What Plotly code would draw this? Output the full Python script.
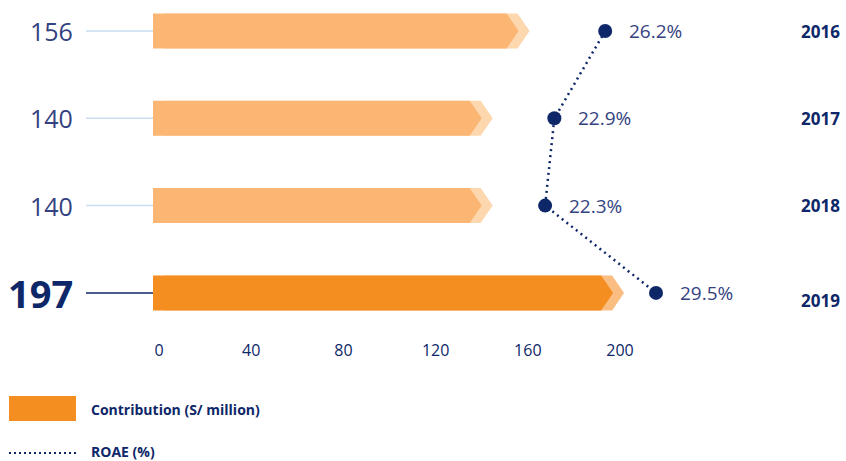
import plotly.graph_objects as go

# Data
years = ["2016", "2017", "2018", "2019"]
contribution = [156, 140, 140, 197]          # S/ million
roae = [26.2, 22.9, 22.3, 29.5]              # %
x_ticks = [0, 40, 80, 120, 160, 200]

# Styling
NAVY = "#0D2769"
SOFT_NAVY = "#34427F"
BAR_LIGHT = "#FBB673"
CHEVRON_LIGHT = "#FDD7AE"
BAR_MAIN = "#F58E21"
CHEVRON_MAIN = "#FBBE82"
GUIDE_LIGHT = "#C9DCF0"
FONT = "Open Sans"

W, H = 846, 461
PX_PER_UNIT = 2.305      # contribution axis scale
ZERO_PX = 159            # pixel of contribution 0
ROAE_PX_PER_PCT = 15.4
ROAE_ZERO_PX = 201.7
ROW_PX = 87.3
FIRST_ROW_PX = 31
PLOT_BOTTOM_PX = 335

base = -6 / PX_PER_UNIT          # bars begin slightly left of zero
tip = 12 / PX_PER_UNIT           # arrow head depth
shift = 11 / PX_PER_UNIT         # offset of the pale chevron
half = 17.5 / ROW_PX             # half bar thickness in row units


def arrow(x0, x1, yc):
    xs = [x0, x1 - tip, x1, x1 - tip, x0, x0]
    ys = [yc - half, yc - half, yc, yc + half, yc + half, yc - half]
    return xs, ys


fig = go.Figure()
last = len(years) - 1
for i, v in enumerate(contribution):
    main_col = BAR_MAIN if i == last else BAR_LIGHT
    chev_col = CHEVRON_MAIN if i == last else CHEVRON_LIGHT
    cx, cy = arrow(base + shift, v + shift, i)
    fig.add_trace(go.Scatter(x=cx, y=cy, fill="toself", fillcolor=chev_col,
                             line=dict(width=0), mode="lines",
                             hoverinfo="skip", showlegend=False))
    bx, by = arrow(base, v, i)
    fig.add_trace(go.Scatter(x=bx, y=by, fill="toself", fillcolor=main_col,
                             line=dict(width=0), mode="lines",
                             name=years[i], showlegend=False))

# ROAE line on its own hidden axis
fig.add_trace(go.Scatter(
    x=roae, y=list(range(len(years))), xaxis="x2", mode="lines+markers",
    line=dict(color=NAVY, width=2.5, dash="2px,4px"),
    marker=dict(size=14, color=NAVY), showlegend=False, name="ROAE (%)"))

annotations = []
shapes = []
for i, (yr, v, r) in enumerate(zip(years, contribution, roae)):
    bold = i == last
    annotations.append(dict(
        x=75 / W, xref="paper", y=i, yref="y", xanchor="right", yanchor="middle",
        text=f"<b>{v}</b>" if bold else str(v), showarrow=False,
        font=dict(family=FONT, size=38 if bold else 25,
                  color=NAVY if bold else SOFT_NAVY)))
    shapes.append(dict(
        type="line", xref="paper", yref="y", x0=86 / W, x1=153 / W, y0=i, y1=i,
        line=dict(color=NAVY if bold else GUIDE_LIGHT, width=1.5)))
    annotations.append(dict(
        x=r, xref="x2", y=i, yref="y", xanchor="left", yanchor="middle",
        xshift=22, text=f"{r}%", showarrow=False,
        font=dict(family=FONT, size=19, color=SOFT_NAVY)))
    annotations.append(dict(
        x=842 / W, xref="paper", y=i, yref="y", xanchor="right", yanchor="middle",
        yshift=-8 if bold else 0, text=f"<b>{yr}</b>", showarrow=False,
        font=dict(family=FONT, size=17, color=NAVY)))

# Legend drawn by hand
shapes.append(dict(type="rect", xref="paper", yref="paper",
                   x0=9 / W, x1=76 / W, y0=1 - 421 / H, y1=1 - 396 / H,
                   fillcolor=BAR_MAIN, line=dict(width=0)))
shapes.append(dict(type="line", xref="paper", yref="paper",
                   x0=9 / W, x1=77 / W, y0=1 - 453 / H, y1=1 - 453 / H,
                   line=dict(color=NAVY, width=2, dash="2px,3px")))
annotations.append(dict(x=89 / W, xref="paper", y=1 - 409 / H, yref="paper",
                        xanchor="left", yanchor="middle", showarrow=False,
                        text="<b>Contribution (S/ million)</b>",
                        font=dict(family=FONT, size=14, color=NAVY)))
annotations.append(dict(x=89 / W, xref="paper", y=1 - 451 / H, yref="paper",
                        xanchor="left", yanchor="middle", showarrow=False,
                        text="<b>ROAE (%)</b>",
                        font=dict(family=FONT, size=14, color=NAVY)))

y_top = -FIRST_ROW_PX / ROW_PX
y_bottom = (PLOT_BOTTOM_PX - FIRST_ROW_PX) / ROW_PX

fig.update_layout(
    width=W, height=H, margin=dict(l=0, r=0, t=0, b=0),
    paper_bgcolor="white", plot_bgcolor="white",
    xaxis=dict(range=[-ZERO_PX / PX_PER_UNIT, (W - ZERO_PX) / PX_PER_UNIT],
               tickvals=x_ticks, ticktext=[str(t) for t in x_ticks],
               showgrid=False, zeroline=False, showline=False, ticks="",
               tickfont=dict(family=FONT, size=16, color=NAVY),
               ticklabelstandoff=4, fixedrange=True),
    xaxis2=dict(range=[-ROAE_ZERO_PX / ROAE_PX_PER_PCT,
                       (W - ROAE_ZERO_PX) / ROAE_PX_PER_PCT],
                overlaying="x", visible=False),
    yaxis=dict(range=[y_bottom, y_top], domain=[1 - PLOT_BOTTOM_PX / H, 1],
               visible=False),
    shapes=shapes, annotations=annotations,
)

fig.write_html("out.html")
